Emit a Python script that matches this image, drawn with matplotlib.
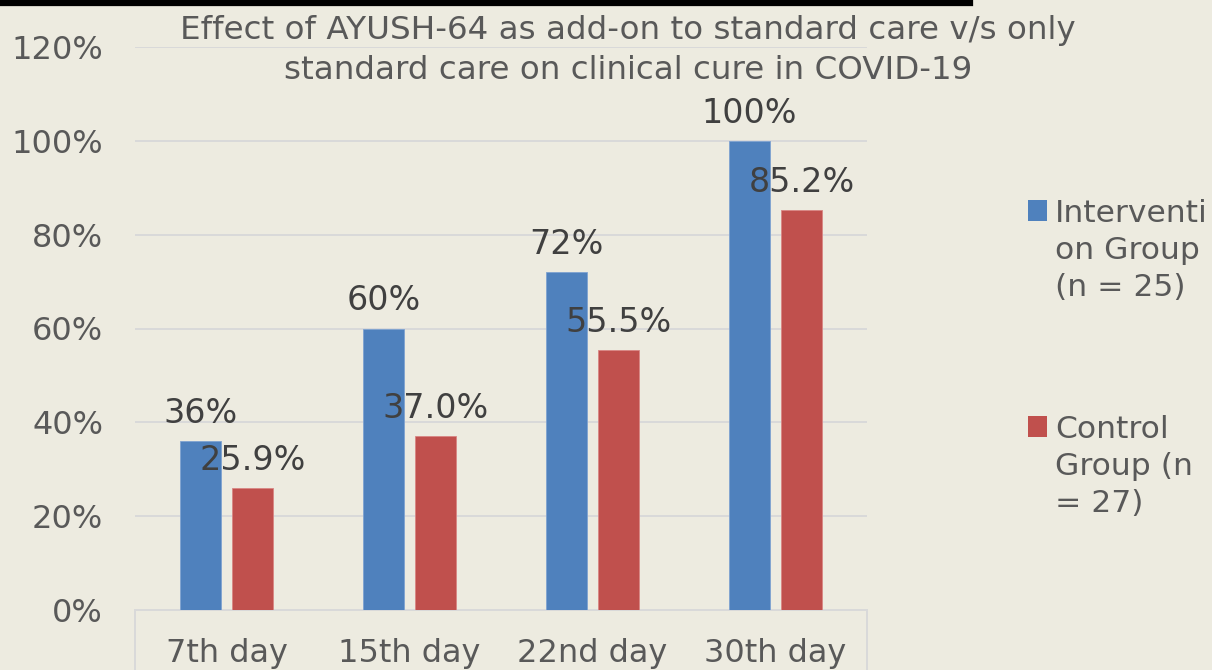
import numpy as np
import matplotlib
matplotlib.use('Agg')
import matplotlib.pyplot as plt
from matplotlib.lines import Line2D
from matplotlib.patches import Rectangle

# data
days = ['7th day', '15th day', '22nd day', '30th day']
intervention = [36, 60, 72, 100]
control = [25.9, 37.0, 55.5, 85.2]
intervention_labels = ['36%', '60%', '72%', '100%']
control_labels = ['25.9%', '37.0%', '55.5%', '85.2%']
series_names = ['Interventi\non Group\n(n = 25)', 'Control\nGroup (n\n= 27)']
title = 'Effect of AYUSH-64 as add-on to standard care v/s only\nstandard care on clinical cure in COVID-19'

BG = '#EDEBE0'
BLUE = '#4F81BD'
RED = '#C0504D'
GRID = '#D9D9D9'
TXT = '#595959'
LBL = '#404040'

plt.rcParams['font.family'] = ['DejaVu Sans']

W, H = 1212, 670
fig = plt.figure(figsize=(W / 100, H / 100), dpi=100, facecolor=BG)
ax = fig.add_axes([135 / W, 1 - 610 / H, (867 - 135) / W, (610 - 47) / H])
ax.set_facecolor(BG)

x = np.arange(len(days))
bw = 0.224
off = 0.142
b1 = ax.bar(x - off, intervention, bw, color=BLUE, edgecolor='#7FA3D1', linewidth=0.6, zorder=3)
b2 = ax.bar(x + off, control, bw, color=RED, edgecolor='#D98684', linewidth=0.6, zorder=3)

for bars, labels in [(b1, intervention_labels), (b2, control_labels)]:
    for rect, lab in zip(bars, labels):
        ax.annotate(lab, (rect.get_x() + rect.get_width() / 2, rect.get_height()),
                    xytext=(0, 13), textcoords='offset points', ha='center', va='baseline',
                    fontsize=24, color=LBL, zorder=5)

ax.set_xlim(-0.5, len(days) - 0.5)
ax.set_ylim(0, 120)
ax.set_yticks(np.arange(0, 121, 20))
ax.set_yticklabels([f'{v}%' for v in range(0, 121, 20)])
ax.set_xticks(x)
ax.set_xticklabels(days)
ax.tick_params(axis='y', length=0, pad=23, labelsize=23, labelcolor=TXT)
ax.tick_params(axis='x', length=0, pad=20, labelsize=23, labelcolor=TXT)
ax.grid(axis='y', color=GRID, linewidth=1.4, zorder=0)
for s in ['top', 'right', 'left']:
    ax.spines[s].set_visible(False)
ax.spines['bottom'].set_color(GRID)
ax.spines['bottom'].set_linewidth(1.4)

# category axis box edges below the plot
for xe in [0, 1]:
    ax.add_line(Line2D([xe, xe], [0, -0.2], transform=ax.transAxes, color=GRID,
                       linewidth=1.4, clip_on=False))

# title
fig.text(628 / W, 1 - 79 / H, title, ha='center', va='baseline', fontsize=23.4,
         color=TXT, linespacing=1.38)

# thick black bar at the top
fig.add_artist(Line2D([0, 970 / W], [1 - 3 / H, 1 - 3 / H], color='black', linewidth=4.5))

# legend
for (name, col, ytop) in [(series_names[0], BLUE, 200), (series_names[1], RED, 416)]:
    fig.add_artist(Rectangle((1028 / W, 1 - (ytop + 21) / H), 19 / W, 21 / H,
                             transform=fig.transFigure, facecolor=col, edgecolor='none'))
    fig.text(1055 / W, 1 - (ytop - 1) / H, name, ha='left', va='top', fontsize=22.6,
             color=TXT, linespacing=1.35)

fig.savefig('out.png', dpi=100, facecolor=BG)
